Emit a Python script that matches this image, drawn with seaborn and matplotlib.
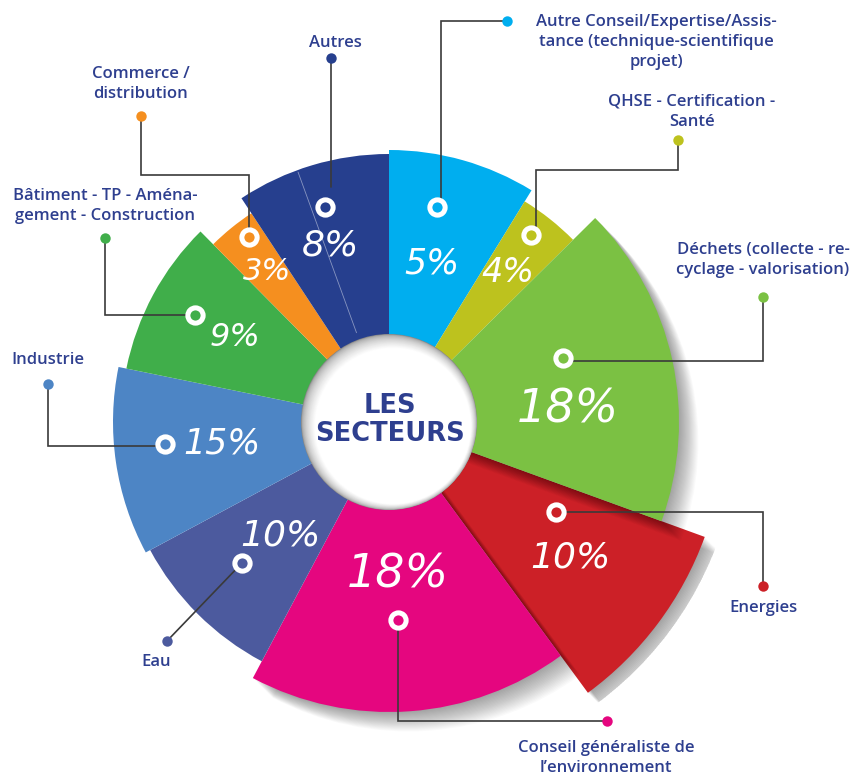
import numpy as np
import matplotlib
matplotlib.use("Agg")
import matplotlib.pyplot as plt
import matplotlib.patheffects as pe
from matplotlib.patches import Circle
import seaborn as sns

# ---------------- data ----------------
sectors = ["Autre Conseil", "QHSE", "Déchets", "Energies", "Conseil généraliste",
           "Eau", "Industrie", "Bâtiment", "Commerce", "Autres"]
percent = [5, 4, 18, 10, 18, 10, 15, 9, 3, 8]
# angular extent (degrees) and outer length of each wedge
span_deg = [31.6, 13.7, 64.7, 33.7, 64.3, 33.8, 39.7, 33.8, 11.3, 33.4]
outer_radius = [272, 259, 290, 336, 290, 271, 276, 268, 250, 268]
label_text = ["Autre Conseil/Expertise/Assis-\ntance (technique-scientifique\nprojet)",
              "QHSE - Certification -\nSanté",
              "Déchets (collecte - re-\ncyclage - valorisation)",
              "Energies",
              "Conseil généraliste de\nl\u2019environnement",
              "Eau",
              "Industrie",
              "Bâtiment - TP - Aména-\ngement - Construction",
              "Commerce /\ndistribution",
              "Autres"]
colors = ["#00AEEF", "#BDC21E", "#7BC143", "#CC2027", "#E5067F",
          "#4C5A9E", "#4D85C5", "#40AE4A", "#F58F1F", "#263F8E"]

# ---------------- layout (pixels, origin top-left) ----------------
W, H = 856, 776
CX, CY = 389, 422
RMAX = 350
HOLE = 88
shadowed = [False, False, True, True, True, False, False, False, False, False]
pct_pos = [(432, 263), (508, 273), (568, 410), (570, 557), (398, 575),
           (280, 535), (222, 443), (235, 337), (267, 272), (330, 245)]
pct_size = [25, 24, 33, 26, 33, 26, 25, 23, 22, 26]
marker_pos = [(437, 207), (531, 235), (563, 358), (556, 512), (398, 620),
              (242, 563), (165, 444), (195, 315), (249, 237), (325, 207)]
dot_pos = [(507, 21), (678, 140), (763, 297), (763, 586), (607, 721),
           (167, 641), (48, 384), (105, 238), (141, 116), (331, 58)]
leader_paths = [
    [(441, 207), (441, 21), (507, 21)],
    [(536, 235), (536, 170), (678, 170), (678, 140)],
    [(563, 361), (763, 361), (763, 297)],
    [(556, 512), (763, 512), (763, 586)],
    [(398, 620), (398, 721), (607, 721)],
    [(242, 563), (167, 641)],
    [(165, 446), (48, 446), (48, 384)],
    [(195, 315), (105, 315), (105, 238)],
    [(249, 237), (249, 175), (141, 175), (141, 116)],
    [(331, 187), (331, 58)],
]
label_pos = [(656, 42), (692, 112), (763, 260), (764, 608), (606, 758),
             (156, 662), (48, 360), (105, 206), (141, 84), (335, 43)]

TEXT_BLUE = "#2E3F8F"

sns.set_theme(style="white")
plt.rcParams['font.family'] = ['DejaVu Sans']

fig = plt.figure(figsize=(W / 100, H / 100), dpi=100)
fig.patch.set_facecolor("white")

# polar axes centred at (CX, CY) with 1 data unit = 1 pixel
ax = fig.add_axes([(CX - RMAX) / W, (H - (CY + RMAX)) / H, 2 * RMAX / W, 2 * RMAX / H],
                  projection="polar")
ax.set_theta_zero_location("N")
ax.set_theta_direction(-1)
ax.set_ylim(0, RMAX)
ax.set_axis_off()

starts = np.concatenate([[0], np.cumsum(span_deg)[:-1]])
bars = ax.bar(np.deg2rad(starts), outer_radius, width=np.deg2rad(span_deg),
              bottom=0, align="edge", color=colors, linewidth=0)
shadow_fx = [pe.SimplePatchShadow(offset=(k * 0.7, -k * 0.7), shadow_rgbFace="black", alpha=0.018)
             for k in range(1, 21)] + [pe.Normal()]
for i, b in enumerate(bars.patches):
    b.set_zorder(1 if sectors[i] == "Energies" else 2)
    if shadowed[i]:
        b.set_path_effects(shadow_fx)

# faint divider line inside "Autres"
ax.plot([np.deg2rad(340), np.deg2rad(340)], [95, 266], color="white", alpha=0.45, lw=0.6, zorder=3)

# overlay in pixel coordinates
ov = fig.add_axes([0, 0, 1, 1], facecolor="none")
ov.set_xlim(0, W)
ov.set_ylim(H, 0)
ov.set_axis_off()

# centre disk with soft shading
n = 24
for k in range(n):
    t = k / (n - 1)
    g = 0.52 + 0.48 * (t ** 0.45)
    ov.add_patch(Circle((CX + 4 * t, CY + 4 * t), HOLE - 10 * t, color=(g, g, g), lw=0, zorder=5))
ov.add_patch(Circle((CX + 4, CY + 4), HOLE - 12, color="white", lw=0, zorder=5))
ov.text(CX + 1, CY - 16, "LES", ha="center", va="center", fontsize=18.5, fontweight="bold",
        color=TEXT_BLUE, zorder=6)
ov.text(CX + 1, CY + 12, "SECTEURS", ha="center", va="center", fontsize=18.5, fontweight="bold",
        color=TEXT_BLUE, zorder=6)

# percentages
for (x, y), p, s in zip(pct_pos, percent, pct_size):
    ov.text(x, y, f"{p}%", ha="center", va="center", fontsize=s, color="white",
            fontstyle="italic", zorder=6)

# leaders, markers, dots, labels
for i in range(len(sectors)):
    xs, ys = zip(*leader_paths[i])
    ov.plot(xs, ys, color="#3a3a3a", lw=1.2, zorder=6, solid_joinstyle="miter")
    mx, my = marker_pos[i]
    ov.plot([mx], [my], marker="o", ms=11, mfc=colors[i], mec="white", mew=3.6, zorder=7)
    dx, dy = dot_pos[i]
    ov.plot([dx], [dy], marker="o", ms=7.5, mfc=colors[i], mec="none", zorder=7)
    lx, ly = label_pos[i]
    ov.text(lx, ly, label_text[i], ha="center", va="center", multialignment="center",
            fontsize=12, color=TEXT_BLUE, linespacing=1.35, zorder=7,
            family=["Open Sans", "DejaVu Sans"], fontweight="semibold")

fig.savefig("out.png", dpi=100, facecolor="white")
